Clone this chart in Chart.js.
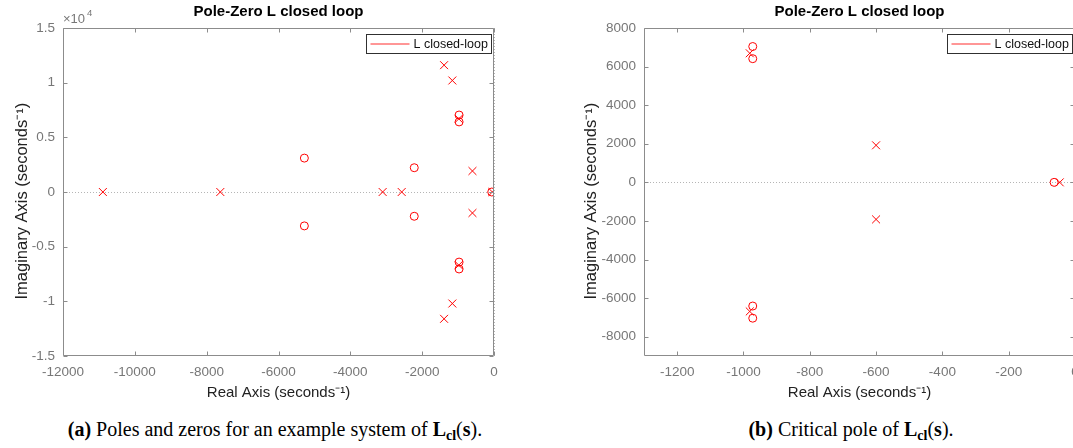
<!DOCTYPE html>
<html><head><meta charset="utf-8">
<script src="https://cdn.jsdelivr.net/npm/chart.js@4.4.1/dist/chart.umd.min.js"></script>
<style>
html,body{margin:0;padding:0;background:#fff;width:1073px;height:448px;overflow:hidden;}
#wrap{position:relative;width:1073px;height:448px;overflow:hidden;background:#fff;}
canvas{position:absolute;top:0;}
#c1{left:0px}
#c2{left:581px}
.cap{position:absolute;top:417px;font-family:"Liberation Serif","Times New Roman",serif;font-size:20px;line-height:24px;color:#000;white-space:nowrap;transform:translateX(-50%);}
.cap sub{font-size:70%;vertical-align:-0.25em;line-height:0}
</style></head><body>
<div id="wrap">
<canvas id="c1" width="557" height="410"></canvas>
<canvas id="c2" width="557" height="410"></canvas>
<div class="cap" style="left:275px"><b>(a)</b> Poles and zeros for an example system of <b>L</b><sub><b>cl</b></sub>(<b>s</b>).</div>
<div class="cap" style="left:851px"><b>(b)</b> Critical pole of <b>L</b><sub><b>cl</b></sub>(<b>s</b>).</div>
</div>
<script>
// ---- data ----
const chartTitle = 'Pole-Zero L closed loop';
const legendLabel = 'L closed-loop';
const xAxisTitle = 'Real Axis (seconds\u207B\u00B9)';
const yAxisTitle = 'Imaginary Axis (seconds\u207B\u00B9)    ';

const poleReal = [-10890, -7620, -3100, -2570, -1390, -1390, -1160, -1160, -981, -981, -600, -600, -46];
const poleImag = [0, 0, 0, 0, 11600, -11600, 10200, -10200, 6690, -6690, 1920, -1920, 0];
const zeroReal = [-5280, -5280, -2220, -2220, -972, -972, -972, -972, -63];
const zeroImag = [3100, -3100, 2220, -2220, 7040, -7040, 6410, -6410, 0];

const leftXTicks = [-12000, -10000, -8000, -6000, -4000, -2000, 0];
const leftYTicks = [-15000, -10000, -5000, 0, 5000, 10000, 15000];
const rightXTicks = [-1200, -1000, -800, -600, -400, -200, 0];
const rightYTicks = [-8000, -6000, -4000, -2000, 0, 2000, 4000, 6000, 8000];

const FONT = '"Liberation Sans", Arial, Helvetica, sans-serif';
const AXIS_GRAY = '#8c8c8c';
const TEXT_GRAY = '#777777';
const RED = 'rgb(255,0,0)';

const decor = {
  id: 'decor',
  afterLayout(chart) {
    // centre the title over the plot area, as MATLAB does
    const tb = chart.titleBlock;
    if (tb) { tb.left = chart.chartArea.left; tb.right = chart.chartArea.right; tb.width = tb.right - tb.left; }
  },
  beforeDatasetsDraw(chart) {
    const {ctx, chartArea: a, scales} = chart;
    const y0 = Math.round(scales.y.getPixelForValue(0)) + 0.5;
    ctx.save();
    ctx.strokeStyle = '#b5b5b5';
    ctx.lineWidth = 1;
    ctx.setLineDash([1, 2]);
    ctx.beginPath();
    ctx.moveTo(a.left, y0); ctx.lineTo(a.right, y0);
    const x0 = Math.round(scales.x.getPixelForValue(0)) + 0.5;
    if (x0 <= a.right + 1) { ctx.moveTo(x0, a.top); ctx.lineTo(x0, a.bottom); }
    ctx.stroke();
    ctx.restore();
  },
  afterDraw(chart, args, opts) {
    const {ctx, chartArea: a, scales} = chart;
    const L = Math.round(a.left) + 0.5, R = Math.round(a.right) - 0.5;
    const T = Math.round(a.top) + 0.5, B = Math.round(a.bottom) - 0.5;
    ctx.save();
    ctx.strokeStyle = AXIS_GRAY;
    ctx.lineWidth = 1;
    ctx.beginPath();
    ctx.moveTo(L, T); ctx.lineTo(R, T); ctx.lineTo(R, B); ctx.lineTo(L, B); ctx.closePath();
    const tl = 4;
    scales.x.ticks.forEach(t => {
      const px = Math.round(scales.x.getPixelForValue(t.value)) + 0.5;
      ctx.moveTo(px, B); ctx.lineTo(px, B - tl);
      ctx.moveTo(px, T); ctx.lineTo(px, T + tl);
    });
    scales.y.ticks.forEach(t => {
      const py = Math.round(scales.y.getPixelForValue(t.value)) + 0.5;
      ctx.moveTo(L, py); ctx.lineTo(L + tl, py);
      ctx.moveTo(R, py); ctx.lineTo(R - tl, py);
    });
    ctx.stroke();

    // legend box
    const w = 125, h = 19;
    const lx = Math.round(a.right - 3 - w) + 0.5, ly = Math.round(a.top + 6) + 0.5;
    ctx.fillStyle = '#fff';
    ctx.fillRect(lx, ly, w, h);
    ctx.strokeStyle = '#303030';
    ctx.strokeRect(lx, ly, w, h);
    ctx.strokeStyle = 'rgba(255,0,0,0.55)';
    ctx.lineWidth = 1.5;
    ctx.beginPath();
    ctx.moveTo(lx + 4, ly + h / 2); ctx.lineTo(lx + 43, ly + h / 2);
    ctx.stroke();
    ctx.fillStyle = '#111';
    ctx.font = '12.5px ' + FONT;
    ctx.textBaseline = 'middle';
    ctx.textAlign = 'left';
    ctx.fillText(opts.legendText, lx + 47, ly + h / 2 + 0.5);

    if (opts.expLabel) {
      ctx.fillStyle = TEXT_GRAY;
      ctx.font = '13px ' + FONT;
      ctx.textBaseline = 'alphabetic';
      ctx.fillText('\u00D710', a.left, 23);
      ctx.font = '9.5px ' + FONT;
      ctx.fillText('4', a.left + 24, 16);
    }
    ctx.restore();
  }
};

function makeChart(id, cfg) {
  const poles = poleReal.map((x, i) => ({x: x, y: poleImag[i]}));
  const zeros = zeroReal.map((x, i) => ({x: x, y: zeroImag[i]}));
  return new Chart(document.getElementById(id), {
    type: 'scatter',
    data: {
      datasets: [
        {label: 'Poles', data: poles, pointStyle: 'crossRot', pointRadius: 5.6,
         borderColor: RED, backgroundColor: RED, pointBorderWidth: 1, showLine: false},
        {label: 'Zeros', data: zeros, pointStyle: 'circle', pointRadius: 4,
         borderColor: RED, backgroundColor: 'rgba(0,0,0,0)', pointBorderWidth: 1, showLine: false}
      ]
    },
    options: {
      responsive: false,
      animation: false,
      devicePixelRatio: 1,
      events: [],
      layout: {padding: {left: 0, right: 63, top: 0, bottom: 0}},
      plugins: {
        legend: {display: false},
        tooltip: {enabled: false},
        title: {display: true, text: chartTitle, color: '#000',
                font: {family: FONT, size: 15, weight: 'bold', lineHeight: 1},
                padding: {top: 4, bottom: 9}},
        decor: {legendText: legendLabel, expLabel: cfg.expLabel}
      },
      scales: {
        x: {
          type: 'linear', min: cfg.xMin, max: cfg.xMax,
          afterBuildTicks: s => { s.ticks = cfg.xTicks.map(v => ({value: v})); },
          afterFit: s => { s.height = 54; },
          grid: {display: false, drawTicks: false},
          border: {display: false},
          ticks: {color: TEXT_GRAY, font: {family: FONT, size: 13.5}, padding: 8,
                  maxRotation: 0, autoSkip: false, callback: v => String(v)},
          title: {display: true, text: xAxisTitle, color: '#222',
                  font: {family: FONT, size: 15, lineHeight: 1.2}, padding: {top: 0, bottom: 8}}
        },
        y: {
          type: 'linear', min: cfg.yMin, max: cfg.yMax,
          afterBuildTicks: s => { s.ticks = cfg.yTicks.map(v => ({value: v})); },
          afterFit: s => { s.width = 63; },
          grid: {display: false, drawTicks: false},
          border: {display: false},
          ticks: {color: TEXT_GRAY, font: {family: FONT, size: 13.5}, padding: 8,
                  autoSkip: false, callback: cfg.yFmt},
          title: {display: true, text: yAxisTitle, color: '#222',
                  font: {family: FONT, size: 16.5, lineHeight: 1.2}, padding: {top: cfg.yTitlePad, bottom: 0}}
        }
      }
    },
    plugins: [decor]
  });
}

makeChart('c1', {xMin: -12000, xMax: 0, yMin: -15000, yMax: 15000,
  xTicks: leftXTicks, yTicks: leftYTicks, yFmt: v => String(v / 10000),
  expLabel: true, yTitlePad: 13});
makeChart('c2', {xMin: -1300, xMax: 0, yMin: -9000, yMax: 8000,
  xTicks: rightXTicks, yTicks: rightYTicks, yFmt: v => String(v),
  expLabel: false, yTitlePad: 1});
</script>
</body></html>
